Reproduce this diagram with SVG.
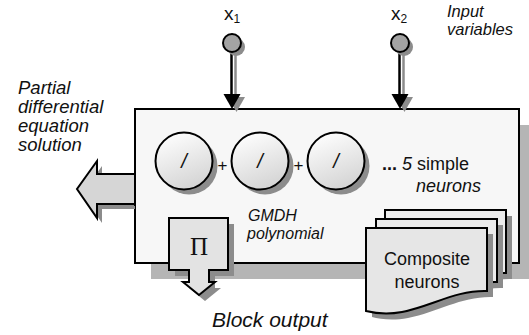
<svg xmlns="http://www.w3.org/2000/svg" width="529" height="335" viewBox="0 0 529 335">
<defs>
<style>
.t{font-family:"Liberation Sans",Arial,sans-serif;fill:#111}
.i{font-style:italic}
.sh{fill:#8c8c8c;stroke:none}
.ln{stroke:#000;stroke-width:2;stroke-linejoin:miter}
</style>
<linearGradient id="ng" x1="0.2" y1="0" x2="0.6" y2="1">
<stop offset="0" stop-color="#ffffff"/>
<stop offset="1" stop-color="#d4d4d4"/>
</linearGradient>
<path id="doc" d="M0,0 H121 V63 C90,62 66,78 36,84 C20,87 8,85 0,83 Z"/>
</defs>

<g id="main-block">
<rect x="151" y="125" width="384" height="154" fill="#b5b5b5"/>
<rect x="135" y="109" width="384" height="154" fill="#f7f7f7" class="ln"/>
</g>

<g id="connectors">
<g id="input-x1-arrow">
<line x1="235.5" y1="55" x2="235.5" y2="97" stroke="#8c8c8c" stroke-width="2.5"/>
<polygon points="228,97 245,97 236.5,112" class="sh"/>
<line x1="231.5" y1="52" x2="231.5" y2="95" stroke="#000" stroke-width="2.5"/>
<polygon points="223.5,94 240.5,94 232,109" fill="#000"/>
</g>
<g id="input-x2-arrow">
<line x1="403.5" y1="55" x2="403.5" y2="97" stroke="#8c8c8c" stroke-width="2.5"/>
<polygon points="396,97 413,97 404.5,112" class="sh"/>
<line x1="399.5" y1="52" x2="399.5" y2="95" stroke="#000" stroke-width="2.5"/>
<polygon points="391.5,94 408.5,94 400,109" fill="#000"/>
</g>
</g>

<g id="input-x1">
<circle cx="236" cy="47" r="9" class="sh"/>
<circle cx="232" cy="43" r="9" fill="#a3a3a3" class="ln"/>
<text class="t" x="224" y="20" font-size="19">x<tspan font-size="12" dy="3">1</tspan></text>
</g>
<g id="input-x2">
<circle cx="404" cy="47" r="9" class="sh"/>
<circle cx="400" cy="43" r="9" fill="#a3a3a3" class="ln"/>
<text class="t" x="391" y="20" font-size="19">x<tspan font-size="12" dy="3">2</tspan></text>
</g>
<g id="input-label">
<text class="t i" font-size="16.5"><tspan x="447" y="17">Input</tspan><tspan x="447" y="35">variables</tspan></text>
</g>

<g id="pde-output">
<polygon points="135,179 102,179 102,166 82,194 102,223 102,209 135,209" class="sh"/>
<polyline points="135,174 97,174 97,161 77,189 97,218 97,204 135,204" fill="#d6d6d6" class="ln"/>
<rect x="134" y="172" width="2" height="34" fill="#f7f7f7"/>
<line x1="135" y1="172" x2="135" y2="206" class="ln"/>
<text class="t i" font-size="18.5"><tspan x="18" y="94">Partial</tspan><tspan x="18" y="113">differential</tspan><tspan x="18" y="132">equation</tspan><tspan x="18" y="151">solution</tspan></text>
</g>

<g id="neuron-1">
<circle cx="189" cy="166" r="28.5" class="sh"/>
<circle cx="184" cy="161" r="28.5" fill="url(#ng)" class="ln"/>
<text class="t i" x="184" y="168" font-size="20" text-anchor="middle">/</text>
</g>
<text class="t" x="222.5" y="171" font-size="17" text-anchor="middle">+</text>
<g id="neuron-2">
<circle cx="265" cy="166" r="28.5" class="sh"/>
<circle cx="260" cy="161" r="28.5" fill="url(#ng)" class="ln"/>
<text class="t i" x="260" y="168" font-size="20" text-anchor="middle">/</text>
</g>
<text class="t" x="298.5" y="171" font-size="17" text-anchor="middle">+</text>
<g id="neuron-3">
<circle cx="341" cy="166" r="28.5" class="sh"/>
<circle cx="336" cy="161" r="28.5" fill="url(#ng)" class="ln"/>
<text class="t i" x="336" y="168" font-size="20" text-anchor="middle">/</text>
</g>
<g id="simple-label">
<text class="t" x="382" y="170" font-size="18"><tspan font-weight="bold">...</tspan> <tspan font-style="italic">5</tspan> simple</text>
<text class="t i" x="416" y="192" font-size="18">neurons</text>
</g>

<g id="gmdh-label">
<text class="t i" font-size="16"><tspan x="248" y="221">GMDH</tspan><tspan x="247" y="239">polynomial</tspan></text>
</g>

<g id="block-output">
<polygon points="175,224 234,224 234,276 215,276 215,288 221,288 205,301 189,288 195,288 195,276 175,276" class="sh"/>
<polygon points="169,218 228,218 228,270 209,270 209,282 215,282 199,295 183,282 189,282 189,270 169,270" fill="#e3e3e3" class="ln"/>
<text x="199" y="255" font-family="Liberation Serif,Times New Roman,serif" font-size="25" text-anchor="middle" fill="#111">Π</text>
<text class="t i" x="212" y="327" font-size="21">Block output</text>
</g>

<g id="composite-neurons">
<use href="#doc" x="391" y="216" class="sh"/>
<use href="#doc" x="385" y="210" fill="#ebebeb" class="ln"/>
<use href="#doc" x="382" y="225" class="sh"/>
<use href="#doc" x="376" y="219" fill="#ebebeb" class="ln"/>
<use href="#doc" x="372" y="234" class="sh"/>
<use href="#doc" x="366" y="228" fill="#e6e6e6" class="ln"/>
<text class="t" font-size="18" text-anchor="middle"><tspan x="427" y="265">Composite</tspan><tspan x="427" y="288">neurons</tspan></text>
</g>
</svg>
